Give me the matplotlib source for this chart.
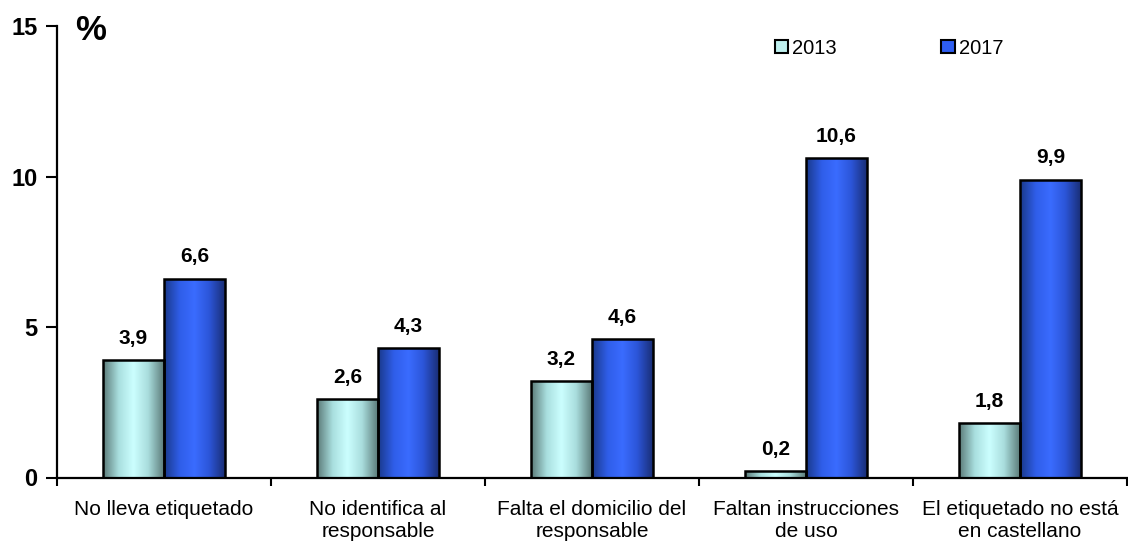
import numpy as np
import matplotlib.pyplot as plt
from matplotlib.colors import LinearSegmentedColormap
from matplotlib.patches import Patch

plt.rcParams['font.family'] = ['Liberation Sans', 'DejaVu Sans']

categories = ['No lleva etiquetado', 'No identifica al\nresponsable',
              'Falta el domicilio del\nresponsable', 'Faltan instrucciones\nde uso',
              'El etiquetado no está\nen castellano']
v2013 = [3.9, 2.6, 3.2, 0.2, 1.8]
v2017 = [6.6, 4.3, 4.6, 10.6, 9.9]
labels2013 = ['3,9', '2,6', '3,2', '0,2', '1,8']
labels2017 = ['6,6', '4,3', '4,6', '10,6', '9,9']

cmap13 = LinearSegmentedColormap.from_list('c13', ['#5c7c7a', '#a8dede', '#ccffff', '#a8dcdc', '#5e7e7c'])
cmap17 = LinearSegmentedColormap.from_list('c17', ['#1a3a8c', '#2f5de8', '#3a6cff', '#2c55d8', '#1a2f78'])

fig = plt.figure(figsize=(11.28, 5.43), dpi=100)
ax = fig.add_axes([57 / 1128, 1 - 477.5 / 543, 1 - 57 / 1128 - 0.001, (477.5 - 26) / 543])

x = np.arange(len(categories))
w = 0.285
grad = np.linspace(0, 1, 64).reshape(1, -1)

for xs, vals, cm, labs in [(x - w / 2, v2013, cmap13, labels2013),
                           (x + w / 2, v2017, cmap17, labels2017)]:
    bars = ax.bar(xs, vals, w, facecolor='none', edgecolor='black', linewidth=1.8, zorder=3)
    for b, lab in zip(bars, labs):
        x0 = b.get_x()
        ax.imshow(grad, extent=[x0, x0 + w, 0, b.get_height()], aspect='auto',
                  cmap=cm, zorder=2, interpolation='bicubic')
        ax.annotate(lab, (x0 + w / 2, b.get_height()), xytext=(0, 9),
                    textcoords='offset points', ha='center', va='bottom',
                    fontsize=15, fontweight='bold')

ax.set_xlim(-0.5, len(categories) - 0.5)
ax.set_ylim(0, 15)
ax.set_yticks([0, 5, 10, 15])
ax.set_yticklabels(['0', '5', '10', '15'], fontsize=17, fontweight='bold')
ax.set_xticks(x)
ax.set_xticklabels(categories, fontsize=15, linespacing=1.2)
ax.tick_params(axis='x', length=0, pad=16)
ax.set_xticks(np.arange(len(categories) + 1) - 0.5, minor=True)
ax.tick_params(axis='x', which='minor', length=6, width=1.5, direction='out')
ax.tick_params(axis='y', length=8, width=1.5, direction='out', pad=6)
for s in ['top', 'right']:
    ax.spines[s].set_visible(False)
ax.spines['left'].set_linewidth(1.6)
ax.spines['bottom'].set_linewidth(1.6)

fig.text(75 / 1128, 1 - 31 / 543, '%', fontsize=25, fontweight='bold', va='center')

handles = [Patch(facecolor='#bff0ee', edgecolor='black', linewidth=1.5, label='2013'),
           Patch(facecolor='#2f5ef0', edgecolor='black', linewidth=1.5, label='2017')]
fig.legend(handles=handles, loc='center left', bbox_to_anchor=(775 / 1128, 1 - 48 / 543),
           ncol=2, frameon=False, fontsize=14.5, handlelength=0.65, handleheight=0.65,
           handletextpad=0.2, columnspacing=5.2, borderpad=0, borderaxespad=0)

fig.savefig('out.png', dpi=100)
